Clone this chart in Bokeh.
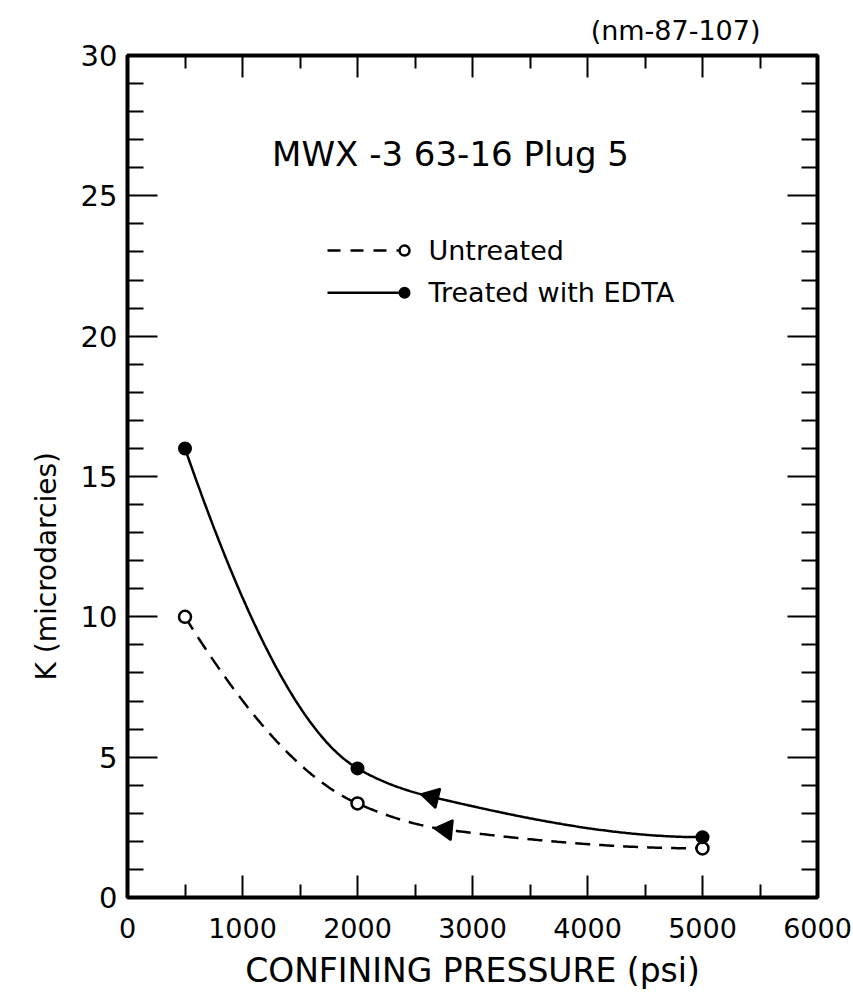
import numpy as np
from bokeh.plotting import figure
from bokeh.models import Range1d, LinearAxis, FixedTicker, Label, CustomJSTickFormatter, Title
from bokeh.embed import file_html
from bokeh.resources import INLINE

# ---------------- data ----------------
pressure = [500, 2000, 5000]                 # confining pressure (psi)
k_untreated = [10.0, 3.35, 1.75]             # K (microdarcies), open circles, dashed
k_treated = [16.0, 4.6, 2.15]                # K (microdarcies), filled circles, solid

# direction arrows drawn on the curves
arrow_untreated_x = [2770]
arrow_untreated_y = [2.42]
arrow_treated_x = [2650]
arrow_treated_y = [3.58]

x_major = [0, 1000, 2000, 3000, 4000, 5000, 6000]
x_minor = [500, 1500, 2500, 3500, 4500, 5500]
y_major = [0, 5, 10, 15, 20, 25, 30]
y_minor = [v for v in range(0, 31) if v % 5 != 0]

title_text = "MWX -3 63-16 Plug 5"
ref_text = "(nm-87-107)"
legend_labels = ["Untreated", "Treated with EDTA"]
x_title = "CONFINING PRESSURE (psi)"
y_title = "K (microdarcies)"

FONT = "DejaVu Sans"


def pchip(xk, yk, n=300):
    xk = np.asarray(xk, float)
    yk = np.asarray(yk, float)
    order = np.argsort(xk)
    xk, yk = xk[order], yk[order]
    h = np.diff(xk)
    d = np.diff(yk) / h
    m = np.zeros_like(xk)
    for i in range(1, len(xk) - 1):
        if d[i - 1] * d[i] <= 0:
            m[i] = 0.0
        else:
            w1 = 2 * h[i] + h[i - 1]
            w2 = h[i] + 2 * h[i - 1]
            m[i] = (w1 + w2) / (w1 / d[i - 1] + w2 / d[i])

    def end(h0, h1, d0, d1):
        mm = ((2 * h0 + h1) * d0 - h0 * d1) / (h0 + h1)
        if np.sign(mm) != np.sign(d0):
            mm = 0.0
        elif np.sign(d0) != np.sign(d1) and abs(mm) > abs(3 * d0):
            mm = 3 * d0
        return mm

    m[0] = end(h[0], h[1], d[0], d[1])
    m[-1] = end(h[-1], h[-2], d[-1], d[-2])
    xs = np.linspace(xk[0], xk[-1], n)
    idx = np.clip(np.searchsorted(xk, xs) - 1, 0, len(h) - 1)
    t = (xs - xk[idx]) / h[idx]
    h00 = 2 * t**3 - 3 * t**2 + 1
    h10 = t**3 - 2 * t**2 + t
    h01 = -2 * t**3 + 3 * t**2
    h11 = t**3 - t**2
    ys = h00 * yk[idx] + h10 * h[idx] * m[idx] + h01 * yk[idx + 1] + h11 * h[idx] * m[idx + 1]
    return xs, ys


p = figure(width=853, height=1002, output_backend="svg", toolbar_location=None,
           x_range=Range1d(0, 6000), y_range=Range1d(0, 30),
           min_border_left=127, min_border_right=36, min_border_top=55, min_border_bottom=105,
           background_fill_color="white", border_fill_color="white")
p.xgrid.visible = False
p.ygrid.visible = False
p.outline_line_color = "black"
p.outline_line_width = 4
p.outline_line_alpha = 1.0

bottom = p.below[0]
left = p.left[0]

xt = FixedTicker(ticks=x_major, minor_ticks=x_minor)
yt = FixedTicker(ticks=y_major, minor_ticks=y_minor)

blank = CustomJSTickFormatter(code="return ''")
top = LinearAxis(formatter=blank)
right = LinearAxis(formatter=blank)
p.add_layout(top, "above")
p.add_layout(right, "right")

for ax in [bottom, top]:
    ax.ticker = xt
    ax.major_tick_in = 22
    ax.major_tick_out = 0
    ax.minor_tick_in = 13
    ax.minor_tick_out = 0
for ax in [left, right]:
    ax.ticker = yt
    ax.major_tick_in = 30
    ax.major_tick_out = 0
    ax.minor_tick_in = 16
    ax.minor_tick_out = 0
for ax in [bottom, top, left, right]:
    ax.axis_line_color = None
    ax.major_tick_line_color = "black"
    ax.minor_tick_line_color = "black"
    ax.major_tick_line_width = 2
    ax.minor_tick_line_width = 2
    ax.major_label_text_font = FONT
    ax.major_label_text_color = "black"
    ax.axis_label_text_font = FONT
    ax.axis_label_text_font_style = "normal"
    ax.axis_label_text_color = "black"
for ax in [top, right]:
    ax.major_label_standoff = 0

bottom.major_label_text_font_size = "27px"
left.major_label_text_font_size = "29px"
bottom.major_label_standoff = 20
left.major_label_standoff = 10
bottom.axis_label = x_title
bottom.axis_label_text_font_size = "33px"
bottom.axis_label_standoff = 10

# y-axis title as a side title (lets it sit lower than the frame centre)
ytitle = Title(text=y_title, align="left", offset=217, standoff=30,
               text_font=FONT, text_font_size="28px", text_font_style="normal",
               text_color="black")
p.add_layout(ytitle, "left")

# reference number at the top right
p.title.text = ref_text
p.title.align = "right"
p.title.text_font = FONT
p.title.text_font_size = "27px"
p.title.text_font_style = "normal"
p.title.text_color = "black"
p.title.offset = 57
p.title.standoff = 20

# curves
ux, uy = pchip(pressure + arrow_untreated_x, k_untreated + arrow_untreated_y)
tx, ty = pchip(pressure + arrow_treated_x, k_treated + arrow_treated_y)
p.line(ux, uy, line_color="black", line_width=2.5, line_dash="15 9")
p.line(tx, ty, line_color="black", line_width=2.5)

# direction arrows
p.scatter(arrow_treated_x, arrow_treated_y, marker="triangle", size=20, angle=1.33,
          fill_color="black", line_color="black", line_width=2)
p.scatter(arrow_untreated_x, arrow_untreated_y, marker="triangle", size=20, angle=1.47,
          fill_color="black", line_color="black", line_width=2)

# data points
p.scatter(pressure, k_untreated, marker="circle", size=12, fill_color="white",
          line_color="black", line_width=2.5)
p.scatter(pressure, k_treated, marker="circle", size=12, fill_color="black",
          line_color="black", line_width=2)

# legend keys (layout positions in data space)
leg_x0, leg_x1, leg_mark, leg_text = 1739, 2360, 2409, 2617
leg_y = [23.05, 21.55]
p.line([leg_x0, leg_x1], [leg_y[0], leg_y[0]], line_color="black", line_width=2.5, line_dash="13 10")
p.scatter([leg_mark], [leg_y[0]], marker="circle", size=10, fill_color="white",
          line_color="black", line_width=2.5)
p.line([leg_x0, leg_x1], [leg_y[1], leg_y[1]], line_color="black", line_width=2.5)
p.scatter([leg_mark], [leg_y[1]], marker="circle", size=10, fill_color="black",
          line_color="black", line_width=2)
for lab, yy in zip(legend_labels, leg_y):
    p.add_layout(Label(x=leg_text, y=yy, text=lab, text_font=FONT, text_font_size="27px",
                       text_baseline="middle", text_align="left", text_color="black"))

p.add_layout(Label(x=2809, y=26.5, text=title_text, text_font=FONT, text_font_size="34px",
                   text_baseline="middle", text_align="center", text_color="black"))

open("out.html", "w").write(file_html(p, INLINE))
